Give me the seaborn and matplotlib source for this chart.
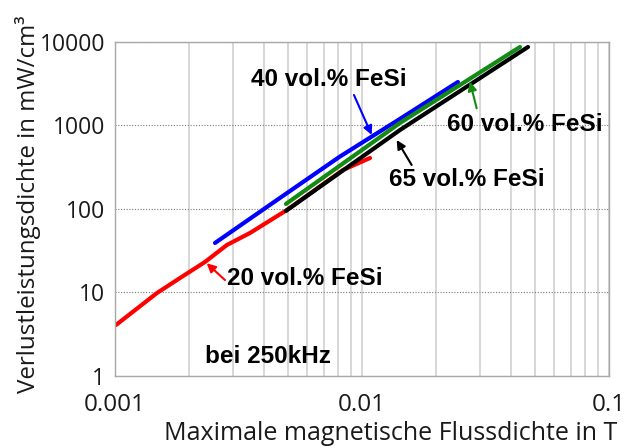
import matplotlib
matplotlib.use("Agg")
import matplotlib.pyplot as plt
import matplotlib.ticker as mticker
import numpy as np
import pandas as pd
import seaborn as sns

# Loss density vs. peak flux density for FeSi composites at 250 kHz
b_20 = [0.001009, 0.001479, 0.001833, 0.002314, 0.002840, 0.003520, 0.004970, 0.008377, 0.01078]
p_20 = [4.08, 9.86, 14.9, 23.2, 37.1, 51.6, 97.3, 293, 408]

b_40 = [0.002541, 0.004528, 0.008145, 0.01425, 0.02446]
p_40 = [39.2, 128.2, 425, 1200, 3319]

b_60 = [0.004924, 0.01425, 0.04363]
p_60 = [115, 1071, 8711]

b_65 = [0.004924, 0.01425, 0.04700]
p_65 = [95, 883, 8711]

series_names = ["20 vol.% FeSi", "40 vol.% FeSi", "60 vol.% FeSi", "65 vol.% FeSi"]
series_colors = ["#ff0000", "#0000ff", "#138a13", "#000000"]

x_ticks = [0.001, 0.01, 0.1]
x_tick_labels = ["0.001", "0.01", "0.1"]
y_ticks = [1, 10, 100, 1000, 10000]
y_tick_labels = ["1", "10", "100", "1000", "10000"]

frames = []
for name, b, p in zip(series_names, [b_20, b_40, b_60, b_65], [p_20, p_40, p_60, p_65]):
    frames.append(pd.DataFrame({"B": b, "P": p, "Material": name}))
df = pd.concat(frames, ignore_index=True)

sns.set_theme(style="white")
plt.rcParams["font.family"] = ["Open Sans", "DejaVu Sans"]

fig = plt.figure(figsize=(6.37, 4.48), dpi=100)
ax = fig.add_axes([0.1805, 0.1607, 0.956 - 0.1805, 0.9063 - 0.1607])

ax.set_xscale("log")
ax.set_yscale("log")
ax.set_xlim(0.001, 0.1)
ax.set_ylim(1, 10000)

# grid: solid light vertical minor lines, dotted horizontal decade lines
ax.xaxis.set_minor_locator(mticker.LogLocator(base=10, subs=np.arange(2, 10)))
ax.xaxis.set_minor_formatter(mticker.NullFormatter())
ax.yaxis.set_minor_locator(mticker.NullLocator())
ax.grid(which="minor", axis="x", color="#d4d4d4", linewidth=1.3, linestyle="-")
ax.grid(which="major", axis="x", color="#d4d4d4", linewidth=1.3, linestyle="-")
ax.grid(which="major", axis="y", color="#7a7a7a", linewidth=0.8, linestyle=(0, (1, 1.5)))
ax.set_axisbelow(True)

sns.lineplot(data=df, x="B", y="P", hue="Material", palette=dict(zip(series_names, series_colors)),
             linewidth=3.0, legend=False, ax=ax, sort=False, estimator=None)

ax.set_xticks(x_ticks)
ax.set_xticklabels(x_tick_labels)
ax.set_yticks(y_ticks)
ax.set_yticklabels(y_tick_labels)
ax.tick_params(axis="both", which="major", direction="out", length=4, width=1,
               color="#a0a0a0", labelcolor="#1a1a1a")
ax.tick_params(axis="x", which="major", pad=8, labelsize=17.5)
ax.tick_params(axis="y", which="major", pad=3, labelsize=16.5)
ax.tick_params(axis="x", which="minor", length=0)

for side in ["left", "bottom", "top", "right"]:
    ax.spines[side].set_color("#a8a8a8")
    ax.spines[side].set_linewidth(1.0)

ax.set_xlabel("Maximale magnetische Flussdichte in T", fontsize=18, color="#1a1a1a")
ax.set_ylabel("Verlustleistungsdichte in mW/cm³", fontsize=17.4, color="#1a1a1a")
ax.xaxis.set_label_coords(0.557, -0.135)
ax.yaxis.set_label_coords(-0.150, 0.515)

bold = dict(fontsize=17.5, fontweight="bold", family=["Liberation Sans", "DejaVu Sans"], va="center", ha="left")
arrow = dict(arrowstyle="-|>", lw=1.5, mutation_scale=13, shrinkA=0, shrinkB=0)

ax.text(0.003553, 3508, "40 vol.% FeSi", color="black", **bold)
ax.annotate("", xy=(0.01095, 770), xytext=(0.00928, 2318), arrowprops=dict(color="#0000ff", **arrow))

ax.text(0.02208, 1014, "60 vol.% FeSi", color="black", **bold)
ax.annotate("", xy=(0.02736, 3346), xytext=(0.02913, 1607), arrowprops=dict(color="#138a13", **arrow))

ax.text(0.01286, 222.5, "65 vol.% FeSi", color="black", **bold)
ax.annotate("", xy=(0.01382, 670), xytext=(0.01589, 336.5), arrowprops=dict(color="black", **arrow))

ax.text(0.00284, 14.9, "20 vol.% FeSi", color="black", **bold)
ax.annotate("", xy=(0.002351, 22.4), xytext=(0.002788, 14.1), arrowprops=dict(color="#ff0000", **arrow))

ax.text(0.002314, 1.70, "bei 250kHz", color="black", **bold)

fig.savefig("out.png", dpi=100)
